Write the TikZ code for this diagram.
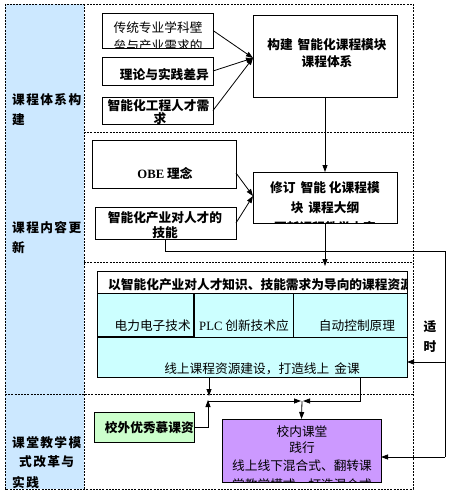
\documentclass[tikz,border=0pt]{standalone}
\usepackage{fontspec}
\setmainfont{Noto Sans CJK SC}
\newfontfamily\lat{Liberation Serif}
\usetikzlibrary{arrows.meta}
\definecolor{colblue}{HTML}{CCE8FF}
\definecolor{rescyan}{HTML}{CCFFFF}
\definecolor{mgreen}{HTML}{CCFFCC}
\definecolor{mpurple}{HTML}{CC99FF}
\tikzset{
 box/.style={draw, line width=0.8pt, inner sep=0pt, outer sep=0pt},
 txt/.style={inner sep=0pt, font=\fontsize{12.7}{15}\selectfont},
 btxt/.style={inner sep=0pt, font=\fontsize{12.7}{15}\selectfont\bfseries},
 ltxt/.style={inner sep=0pt, anchor=west, font=\fontsize{12.7}{15}\selectfont\bfseries\addfontfeatures{LetterSpace=11}},
 sepline/.style={line width=0.7pt, dash pattern=on 2pt off 1.2pt},
 arr/.style={line width=0.8pt, -{Triangle[length=7pt,width=5pt]}},
 ln/.style={line width=0.8pt},
}
\begin{document}
\begin{tikzpicture}[x=1pt,y=-1pt]
\useasboundingbox (0,0) rectangle (448,493);
\fill[white] (0,0) rectangle (448,493);
% left column
\fill[colblue] (5,4) rectangle (84,489);
\draw[sepline] (5,4) rectangle (413,489);
\draw[sepline] (84,4) -- (84,489);
\draw[sepline] (84,132) -- (413,132);
\draw[sepline] (84,262) -- (413,262);
\draw[sepline] (5,394) -- (413,394);
\node[ltxt] (L1a) at (12,100) {课程体系构};
\node[ltxt] (L1b) at (12,120) {建};
\node[ltxt] (L2a) at (12,228) {课程内容更};
\node[ltxt] (L2b) at (12,248) {新};
\node[ltxt] (L3a) at (12,443) {课堂教学模};
\node[ltxt] (L3b) at (19,462) {式改革与};
\begin{scope}
\clip (5,400) rectangle (84,489);
\node[ltxt] (L3c) at (12,483) {实践};
\end{scope}

% section 1
\node[box, minimum width=111, minimum height=35] (b1) at (157.5,30.5) {};
\begin{scope}
\clip (b1.south west) rectangle (b1.north east);
\node[txt] (t1a) at (158,28) {传统专业学科壁};
\node[txt] (t1b) at (158,46) {垒与产业需求的};
\end{scope}
\node[box, minimum width=111, minimum height=28] (b2) at (157.5,71) {};
\node[btxt, anchor=east] (t2) at (209,75) {理论与实践差异};
\node[box, minimum width=111, minimum height=27] (b3) at (157.5,110.5) {};
\begin{scope}
\clip (b3.south west) rectangle (b3.north east);
\node[btxt] (t3a) at (158.5,106) {智能化工程人才需};
\node[btxt] (t3b) at (160,119) {求};
\end{scope}
\node[box, minimum width=144, minimum height=82] (B1) at (325,56) {};
\node[btxt] (T1a) at (327,45) {构建\hspace{5pt}智能化课程模块};
\node[btxt] (T1b) at (327,62) {课程体系};
\coordinate (m1) at (253,58);
\draw[arr] (b1.east) -- (m1);
\draw[arr] (b2.east) -- (m1);
\draw[arr] (b3.east) -- (m1);

% section 2
\node[box, minimum width=144, minimum height=48] (b4) at (164,164) {};
\node[btxt] (t4) at (165,173) {{\lat OBE} 理念};
\node[box, minimum width=141, minimum height=32] (b5) at (165.5,223) {};
\begin{scope}
\clip (b5.south west) rectangle (b5.north east);
\node[btxt] (t5a) at (165,218) {智能化产业对人才的};
\node[btxt] (t5b) at (165,233) {技能};
\end{scope}
\node[box, minimum width=144, minimum height=51] (B2) at (325,197.5) {};
\begin{scope}
\clip (B2.south west) rectangle (B2.north east);
\node[btxt] (T2a) at (325,188) {修订\hspace{5pt}智能\hspace{3pt}化课程模};
\node[btxt] (T2b) at (325,208) {块\hspace{5pt}课程大纲};
\node[btxt] (T2c) at (325,228) {更新课程教学内容};
\end{scope}
\coordinate (m2) at (253,196);
\draw[arr] ([yshift=15pt]b4.south east) -- (m2);
\draw[arr] (b5.east) -- (m2);
\draw[arr] (B1.south) -- (B2.north);
\coordinate (rin) at (325,266);
\draw[arr] (B2.south) -- (rin);

% resource box
\node[box, fill=white, minimum width=310, minimum height=22] (Rh) at (252,282) {};
\node[box, fill=rescyan, minimum width=97, minimum height=44] (c1) at (145.5,315) {};
\node[box, fill=rescyan, minimum width=99, minimum height=44] (c2) at (243.5,315) {};
\node[box, fill=rescyan, minimum width=114, minimum height=44] (c3) at (350,315) {};
\node[box, fill=rescyan, minimum width=310, minimum height=40] (Rb) at (252,357) {};
\node[box, minimum width=310, minimum height=106] (R) at (252,324) {};
\draw[line width=1.8pt] (c1.north east) -- (c1.south east) -- (c1.south west);
\begin{scope}
\clip (Rh.south west) rectangle (Rh.north east);
\node[btxt, anchor=west] (th) at (108,285) {以智能化产业对人才知识、技能需求为导向的课程资源};
\end{scope}
\node[txt, anchor=east] (tc1) at (191,326) {电力电子技术};
\begin{scope}
\clip (c2.south west) rectangle (c2.north east);
\node[txt, anchor=west] (tc2) at (199,326) {{\lat PLC} 创新技术应};
\end{scope}
\node[txt] (tc3) at (357,326) {自动控制原理};
\node[txt] (tb) at (262,369) {线上课程资源建设，打造线上\hspace{5pt}金课};

% loop
\coordinate (lp1) at (445,251);
\coordinate (lp2) at (445,457);
\coordinate (lp3) at (445,362);
\draw[ln] (b5.south) |- (lp1) -- (lp2);
\draw[arr] (lp3) -- (lp3 -| R.east);
\node[btxt] (s1) at (430,327) {适};
\node[btxt] (s2) at (430,347) {时};

% section 3
\node[box, fill=mgreen, minimum width=100, minimum height=30] (G) at (144,427) {};
\begin{scope}
\clip (G.south west) rectangle (G.north east);
\node[btxt, anchor=east] (tg) at (194,428) {校外优秀慕课资};
\end{scope}
\node[box, fill=mpurple, minimum width=159, minimum height=63] (P) at (301.5,450.5) {};
\begin{scope}
\clip (P.south west) rectangle (P.north east);
\node[txt] (tp1) at (302,432) {校内课堂};
\node[txt] (tp2) at (302,448) {践行};
\node[txt] (tp3) at (302,466) {线上线下混合式、翻转课};
\node[txt] (tp4) at (302,484.5) {堂教学模式，打造混合式};
\end{scope}
\draw[arr] (lp2) -- (lp2 -| P.east);

\coordinate (d1) at (209,396);
\coordinate (u1) at (208,400);
\coordinate (j0) at (208,401);
\coordinate (jm) at (302,401);
\draw[arr] ([xshift=112pt]R.south west) -- (d1);
\draw[arr] (G.east) -| (u1);
\draw[arr] (j0) -- ([xshift=-1pt]jm);
\draw[arr] ([xshift=-47pt]R.south east) |- ([xshift=1pt]jm);
\draw[arr] (jm) -- (P.north);
\end{tikzpicture}
\end{document}
